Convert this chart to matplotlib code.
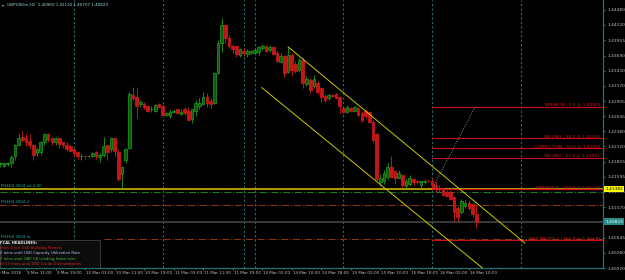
import numpy as np
import matplotlib.pyplot as plt
from matplotlib.patches import Rectangle
import matplotlib.transforms as mtransforms

# GBPUSDm H1 candles, 9 Mar 04:00 -> 16 Mar 12:00 (weekend removed, bar index = position)
opens = [1.4181, 1.4179, 1.4181, 1.4183, 1.4195, 1.4215, 1.4229, 1.4226, 1.4222, 1.4215,
         1.4200, 1.4203, 1.4219, 1.4233, 1.4226, 1.4219, 1.4227, 1.4219, 1.4215, 1.4212,
         1.4207, 1.4202, 1.4195, 1.4196, 1.4195, 1.4195, 1.4202, 1.4193, 1.4198, 1.4214,
         1.4207, 1.4226, 1.4203, 1.4164, 1.4188, 1.4210, 1.4301, 1.4298, 1.4286, 1.4286,
         1.4282, 1.4276, 1.4274, 1.4286, 1.4282, 1.4267, 1.4265, 1.4272, 1.4276, 1.4269,
         1.4277, 1.4274, 1.4260, 1.4274, 1.4282, 1.4286, 1.4298, 1.4291, 1.4288, 1.4339,
         1.4391, 1.4422, 1.4400, 1.4386, 1.4386, 1.4370, 1.4377, 1.4372, 1.4374, 1.4374,
         1.4375, 1.4382, 1.4386, 1.4379, 1.4384, 1.4374, 1.4358, 1.4369, 1.4341, 1.4370,
         1.4355, 1.4344, 1.4362, 1.4320, 1.4327, 1.4317, 1.4322, 1.4313, 1.4300, 1.4295,
         1.4301, 1.4303, 1.4298, 1.4279, 1.4272, 1.4279, 1.4274, 1.4279, 1.4270, 1.4274,
         1.4272, 1.4255, 1.4233, 1.4150, 1.4153, 1.4160, 1.4177, 1.4169, 1.4158, 1.4162,
         1.4143, 1.4148, 1.4155, 1.4152, 1.4146, 1.4150, 1.4153, 1.4153, 1.4146, 1.4141,
         1.4140, 1.4134, 1.4133, 1.4124, 1.4105, 1.4098, 1.4109, 1.4115, 1.4112, 1.40960]
highs = [1.4186, 1.4184, 1.4186, 1.4198, 1.4217, 1.4236, 1.4238, 1.4233, 1.4233, 1.4217,
         1.4210, 1.4222, 1.4236, 1.4236, 1.4229, 1.4229, 1.4229, 1.4220, 1.4219, 1.4215,
         1.4208, 1.4205, 1.4200, 1.4198, 1.4198, 1.4202, 1.4205, 1.4200, 1.4229, 1.4217,
         1.4227, 1.4227, 1.4207, 1.4179, 1.4210, 1.4307, 1.4315, 1.4313, 1.4293, 1.4289,
         1.4284, 1.4282, 1.4286, 1.4288, 1.4286, 1.4272, 1.4276, 1.4277, 1.4277, 1.4277,
         1.4281, 1.4281, 1.4277, 1.4293, 1.4296, 1.4307, 1.4305, 1.4296, 1.4341, 1.4396,
         1.4434, 1.4424, 1.4405, 1.4389, 1.4388, 1.4382, 1.4382, 1.4381, 1.4379, 1.4382,
         1.4386, 1.4389, 1.4388, 1.4388, 1.4386, 1.4377, 1.4374, 1.4370, 1.4384, 1.4374,
         1.4360, 1.4365, 1.4367, 1.4334, 1.4331, 1.4336, 1.4326, 1.4315, 1.4303, 1.4305,
         1.4303, 1.4305, 1.4300, 1.4282, 1.4284, 1.4281, 1.4282, 1.4281, 1.4274, 1.4276,
         1.4274, 1.4257, 1.4236, 1.4164, 1.4172, 1.4183, 1.4195, 1.4172, 1.4171, 1.4165,
         1.4155, 1.4162, 1.4157, 1.4153, 1.4153, 1.4155, 1.4155, 1.4157, 1.4150, 1.4146,
         1.4141, 1.4136, 1.4136, 1.4126, 1.4110, 1.4121, 1.4119, 1.4119, 1.4115, 1.41110]
lows = [1.4177, 1.4176, 1.4179, 1.4177, 1.4189, 1.4212, 1.4219, 1.4212, 1.4210, 1.4189,
        1.4196, 1.4198, 1.4215, 1.4220, 1.4215, 1.4215, 1.4210, 1.4210, 1.4205, 1.4202,
        1.4196, 1.4191, 1.4189, 1.4191, 1.4193, 1.4193, 1.4191, 1.4186, 1.4193, 1.4188,
        1.4203, 1.4195, 1.4152, 1.4141, 1.4184, 1.4208, 1.4293, 1.4262, 1.4281, 1.4277,
        1.4272, 1.4272, 1.4272, 1.4279, 1.4265, 1.4265, 1.4262, 1.4270, 1.4269, 1.4267,
        1.4267, 1.4257, 1.4253, 1.4264, 1.4276, 1.4284, 1.4281, 1.4279, 1.4286, 1.4338,
        1.4375, 1.4391, 1.4382, 1.4374, 1.4367, 1.4367, 1.4369, 1.4367, 1.4372, 1.4372,
        1.4370, 1.4379, 1.4375, 1.4375, 1.4370, 1.4358, 1.4357, 1.4332, 1.4339, 1.4336,
        1.4339, 1.4341, 1.4313, 1.4317, 1.4305, 1.4313, 1.4303, 1.4289, 1.4289, 1.4293,
        1.4298, 1.4295, 1.4270, 1.4270, 1.4270, 1.4272, 1.4272, 1.4264, 1.4255, 1.4262,
        1.4253, 1.4219, 1.4152, 1.4143, 1.4148, 1.4155, 1.4158, 1.4148, 1.4157, 1.4141,
        1.4140, 1.4143, 1.4146, 1.4148, 1.4140, 1.4148, 1.4150, 1.4138, 1.4134, 1.4134,
        1.4127, 1.4126, 1.4119, 1.4083, 1.4083, 1.4096, 1.4105, 1.4102, 1.4090, 1.40707]
closes = [1.4183, 1.4183, 1.4184, 1.4193, 1.4214, 1.4227, 1.4224, 1.4219, 1.4215, 1.4198,
          1.4207, 1.4219, 1.4233, 1.4224, 1.4219, 1.4226, 1.4217, 1.4214, 1.4208, 1.4205,
          1.4200, 1.4195, 1.4196, 1.4195, 1.4196, 1.4200, 1.4195, 1.4198, 1.4212, 1.4203,
          1.4226, 1.4205, 1.4155, 1.4177, 1.4208, 1.4303, 1.4296, 1.4282, 1.4289, 1.4281,
          1.4274, 1.4277, 1.4284, 1.4281, 1.4267, 1.4270, 1.4272, 1.4274, 1.4270, 1.4272,
          1.4270, 1.4258, 1.4276, 1.4288, 1.4288, 1.4298, 1.4288, 1.4286, 1.4339, 1.4391,
          1.4422, 1.4400, 1.4386, 1.4381, 1.4372, 1.4381, 1.4374, 1.4377, 1.4377, 1.4379,
          1.4384, 1.4386, 1.4377, 1.4384, 1.4372, 1.4360, 1.4369, 1.4339, 1.4370, 1.4344,
          1.4343, 1.4362, 1.4322, 1.4329, 1.4310, 1.4329, 1.4307, 1.4298, 1.4293, 1.4301,
          1.4300, 1.4296, 1.4282, 1.4272, 1.4281, 1.4274, 1.4281, 1.4267, 1.4258, 1.4265,
          1.4255, 1.4224, 1.4155, 1.4158, 1.4167, 1.4176, 1.4160, 1.4158, 1.4167, 1.4145,
          1.4153, 1.4158, 1.4150, 1.4150, 1.4152, 1.4153, 1.4152, 1.4145, 1.4140, 1.4138,
          1.4129, 1.4127, 1.4122, 1.4098, 1.4091, 1.4117, 1.4115, 1.4105, 1.4095, 1.40823]

price_ticks = [1.44480, 1.44220, 1.43955, 1.43690, 1.43430, 1.43170, 1.42905, 1.42645,
               1.42380, 1.42120, 1.41855, 1.41595, 1.41335, 1.41070, 1.40810, 1.40545,
               1.40280, 1.40020]
date_bars = [-1, 7, 15, 23, 31, 39, 47, 55, 63, 71, 79, 87, 95, 103, 111, 119, 127]
date_labels = ['9 Mar 2016', '9 Mar 11:00', '9 Mar 19:00', '10 Mar 03:00', '10 Mar 11:00',
               '10 Mar 19:00', '11 Mar 03:00', '11 Mar 11:00', '11 Mar 19:00', '14 Mar 02:00',
               '14 Mar 10:00', '14 Mar 18:00', '15 Mar 02:00', '15 Mar 10:00', '15 Mar 18:00',
               '16 Mar 02:00', '16 Mar 10:00']
separator_bars = [20, 44, 66, 69, 93, 117, 141]

fib_names = ['BREAK IN', 'SELLING', 'CORRECTION', 'SELLING', 'BREAKOUT', 'TAKE PROFIT 1']
fib_levels = ['0.0', '38.2', '50.0', '61.8', '100.0', '161.8']
fib_prices = [1.42805, 1.42260, 1.42092, 1.41924, 1.41379, 1.40498]
fib_start = 117
fib_anchor_bars = [117, 128.7]
fib_anchor_prices = [1.41379, 1.42805]

upper_bars, upper_prices = [78, 142.2], [1.43843, 1.40450]
lower_bars, lower_prices = [70.9, 133], [1.43137, 1.39899]

yellow_level = 1.41382
green_level = 1.41329
brown_levels = [1.41110, 1.40519]
brown_starts = [-1, 28]
bid = 1.40823

news_lines = ['FCAL HEADLINES:', 'mins since USD Building Permits',
              '2 mins until USD Capacity Utilization Rate',
              '7 mins until GBP CB Leading Index m/m',
              'hr 57 mins until USD Crude Oil Inventories']
news_colors = ['#e8e8e8', '#e02020', '#b8c8ff', '#40c040', '#e03030']

teal = '#237373'
fig = plt.figure(figsize=(6.25, 2.8), dpi=100, facecolor='black')
ax = fig.add_axes([0, 12 / 280, 603 / 625, 268 / 280], facecolor='black')
ax.set_xlim(-0.05, 163.35)
ax.set_ylim(1.40037, 1.44652)

for b in separator_bars:
    ax.axvline(b, color='#1e7070', lw=0.8, ls=(0, (2, 2)), zorder=1)

# level lines
ax.axhline(bid, color='#3a3a3a', lw=1.4, zorder=1)
ax.axhline(green_level, color='#1e7a1e', lw=0.8, ls='-.', zorder=1)
for lv, st in zip(brown_levels, brown_starts):
    ax.plot([st, 170], [lv, lv], color='#8a3416', lw=0.8, ls='-.', zorder=1)
ax.axhline(yellow_level, color='#e0c400', lw=1.1, zorder=2)

for p in fib_prices:
    ax.plot([fib_start, 170], [p, p], color='#c81010', lw=0.8, zorder=2)
for name, lev, p in zip(fib_names, fib_levels, fib_prices):
    ax.text(162.6, p + 0.00003, f'{name} - {lev} @ {p:.5f}', color='#d81818',
            fontsize=3.1, ha='right', va='bottom', zorder=5)
ax.plot(fib_anchor_bars, fib_anchor_prices, color='#8a8a8a', lw=0.7, ls=(0, (1, 1.5)), zorder=2)

# candles
x = np.arange(len(opens))
o, h, l, c = map(np.array, (opens, highs, lows, closes))
up = c >= o
body_lo = np.minimum(o, c)
body_h = np.maximum(np.abs(c - o), 0.00005)
ax.vlines(x[up], l[up], h[up], color='#1c9a1c', lw=0.6, zorder=3)
ax.vlines(x[~up], l[~up], h[~up], color='#d81c1c', lw=0.6, zorder=3)
ax.bar(x[up], body_h[up], bottom=body_lo[up], width=0.72, color='#0f5a0f',
       edgecolor='#1ea01e', linewidth=0.5, zorder=4)
ax.bar(x[~up], body_h[~up], bottom=body_lo[~up], width=0.72, color='#c81414',
       edgecolor='#d81c1c', linewidth=0.5, zorder=4)

# channel
ax.plot(upper_bars, upper_prices, color='#c8c800', lw=0.7, zorder=5)
ax.plot(lower_bars, lower_prices, color='#c8c800', lw=0.7, zorder=5)

# axes look
for s in ['left', 'top']:
    ax.spines[s].set_visible(False)
for s in ['right', 'bottom']:
    ax.spines[s].set_color(teal)
    ax.spines[s].set_linewidth(0.9)
ax.yaxis.tick_right()
ax.set_yticks(price_ticks)
# the 1.40810 label sits under the bid box, like on the terminal
ax.set_yticklabels(['' if p == 1.40810 else f'{p:.5f}' for p in price_ticks])
ax.tick_params(axis='y', colors='#c0c0c0', labelsize=3.2, length=1.5, pad=1.5)
ax.tick_params(axis='y', color=teal)
ax.set_xticks(date_bars[1:])
ax.set_xticklabels([])
ax.tick_params(axis='x', length=1.5, color=teal)
for b, lab in zip(date_bars, date_labels):
    ax.text(b + 0.3, -0.012, lab, transform=mtransforms.blended_transform_factory(ax.transData, ax.transAxes),
            color='#c0c0c0', fontsize=3, ha='left', va='top')

btr = mtransforms.blended_transform_factory(ax.transAxes, ax.transData)
ax.text(1.004, yellow_level, f'{yellow_level:.5f}', transform=btr, fontsize=3.2, color='black',
        va='center', ha='left', bbox=dict(boxstyle='square,pad=0.25', fc='#ffff00', ec='none'), zorder=6)
ax.text(1.004, bid, f'{bid:.5f}', transform=btr, fontsize=3.2, color='#dff', va='center', ha='left',
        bbox=dict(boxstyle='square,pad=0.25', fc='#2b8a8a', ec='none'), zorder=6)

# header
ax.text(0.004, 0.99, '▾', transform=ax.transAxes, color='#7fd0d0', fontsize=3, va='top')
ax.text(0.012, 0.99, f'GBPUSDm,H1  {opens[-1]:.5f} {highs[-1]:.5f} {lows[-1]:.5f} {closes[-1]:.5f}',
        transform=ax.transAxes, color='#9fdcdc', fontsize=3, va='top')

# left line labels
for lab, p in [('PH4H4 2604 ud 2.00', 1.4140), ('PH4H4 2604 d', 1.4112), ('PH4H4 2604 to', 1.4052)]:
    ax.text(0.1, p, lab, color='#35a89c', fontsize=2.8, va='bottom')

# news panel
ax.add_patch(Rectangle((0, 0), 100 / 603, 28 / 268, transform=ax.transAxes, fc='#0c0c0c',
                       ec='#3a3a3a', lw=0.7, zorder=7))
for i, (t, col) in enumerate(zip(news_lines, news_colors)):
    ax.text(0.0, (25 - 5.2 * i) / 268, t, transform=ax.transAxes, color=col, fontsize=2.7,
            va='center', ha='left', zorder=8, fontweight='bold' if i == 0 else 'normal')

fig.savefig('out.png', dpi=100, facecolor='black')
